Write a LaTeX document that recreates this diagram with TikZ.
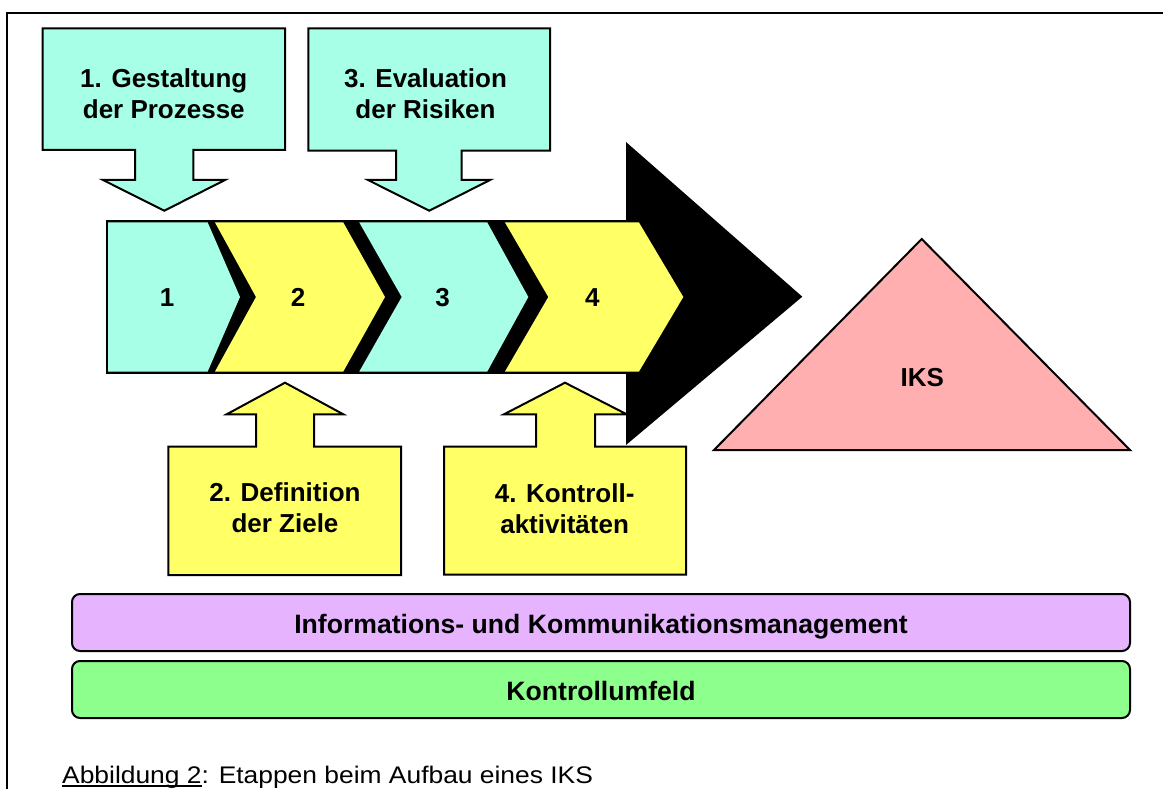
\documentclass[tikz,border=0pt]{standalone}
\usepackage{fontspec}
\setmainfont{Liberation Sans}
\definecolor{aqua}{RGB}{166,255,230}
\definecolor{lemon}{RGB}{255,255,102}
\definecolor{rose}{RGB}{255,175,175}
\definecolor{lilac}{RGB}{230,180,255}
\definecolor{mint}{RGB}{140,255,140}
\newcommand{\myul}[1]{{\sbox0{#1}\rlap{\rule[-3.8pt]{\wd0}{1.4pt}}\usebox0}}
\begin{document}
\begin{tikzpicture}[x=1pt,y=-1pt,
  outl/.style={draw=black, line width=2pt, line join=miter},
  lbl/.style={font=\fontsize{26}{31}\selectfont\bfseries, align=center, inner sep=0pt},
  barlbl/.style={font=\fontsize{26.6}{31}\selectfont\bfseries, inner sep=0pt, anchor=base},
  bar/.style={draw=black, line width=2pt, rounded corners=8pt}]
\useasboundingbox (0,0) rectangle (1163,789);
\fill[white] (0,0) rectangle (1163,789);
% frame
\draw[line width=2pt] (7,800) -- (7,13) -- (1170,13);
% black arrow behind chevrons
\fill[black] (106,220) rectangle (626,374);
\fill[black] (626,142) -- (802.3,296.7) -- (626,445) -- cycle;
% chevrons
\fill[aqua] (108,222.5) -- (207.7,222.5) -- (240,297) -- (207.7,371.5) -- (108,371.5) -- cycle;
\fill[lemon] (215,222.5) -- (343.3,222.5) -- (385,297) -- (343.3,371.5) -- (215,371.5) -- (256,297) -- cycle;
\fill[aqua] (359.3,222.5) -- (487.3,222.5) -- (528.3,297) -- (487.3,371.5) -- (359.3,371.5) -- (401.7,297) -- cycle;
\fill[lemon] (505,222.5) -- (639,222.5) -- (683.3,297) -- (639,371.5) -- (505,371.5) -- (548.3,297) -- cycle;
\node[lbl] (n1) at (167,297.5) {1};
\node[lbl] (n2) at (298,297.5) {2};
\node[lbl] (n3) at (442.5,297.5) {3};
\node[lbl] (n4) at (592.3,297.5) {4};
% top callouts
\filldraw[outl, fill=aqua] (42.7,28.3) -- (285,28.3) -- (285,150) -- (193.3,150) -- (193.3,180) -- (225,180) -- (164.3,210.7) -- (103,180) -- (135,180) -- (135,150) -- (42.7,150) -- cycle;
\node[lbl] (c1) at (163.8,94) {1. Gestaltung\\der Prozesse};
\filldraw[outl, fill=aqua] (308.3,28.3) -- (550,28.3) -- (550,150.7) -- (461.7,150.7) -- (461.7,180) -- (490,180) -- (429.3,210.7) -- (368,180) -- (396,180) -- (396,150.7) -- (308.3,150.7) -- cycle;
\node[lbl] (c3) at (425.5,94) {3. Evaluation\\der Risiken};
% bottom callouts
\filldraw[outl, fill=lemon] (168.3,575) -- (401,575) -- (401,446.7) -- (314,446.7) -- (314,414.3) -- (343.3,414.3) -- (285,382.7) -- (226.7,414.3) -- (256,414.3) -- (256,446.7) -- (168.3,446.7) -- cycle;
\node[lbl] (c2) at (285,508) {2. Definition\\der Ziele};
\filldraw[outl, fill=lemon] (444,574.5) -- (686,574.5) -- (686,446.7) -- (595,446.7) -- (595,414.3) -- (626.7,414.3) -- (565,382.7) -- (504,414.3) -- (536,414.3) -- (536,446.7) -- (444,446.7) -- cycle;
\node[lbl] (c4) at (564.6,509) {4. Kontroll-\\aktivitäten};
% IKS triangle
\filldraw[outl, fill=rose] (714,450) -- (921.7,239) -- (1130,450) -- cycle;
\node[lbl] (iks) at (922.3,378) {IKS};
% bars
\filldraw[bar, fill=lilac] (72,594) rectangle (1130,651);
\node[barlbl] (info) at (601,633.3) {Informations- und Kommunikationsmanagement};
\filldraw[bar, fill=mint] (72,661) rectangle (1130,718);
\node[barlbl] (umfeld) at (601,700.3) {Kontrollumfeld};
% caption
\node[anchor=base west, inner sep=0pt, font=\fontsize{24}{28}\selectfont] (cap) at (62,783) {\scalebox{1.1}[1]{\myul{Abbildung 2}: Etappen beim Aufbau eines IKS}};
\end{tikzpicture}
\end{document}
